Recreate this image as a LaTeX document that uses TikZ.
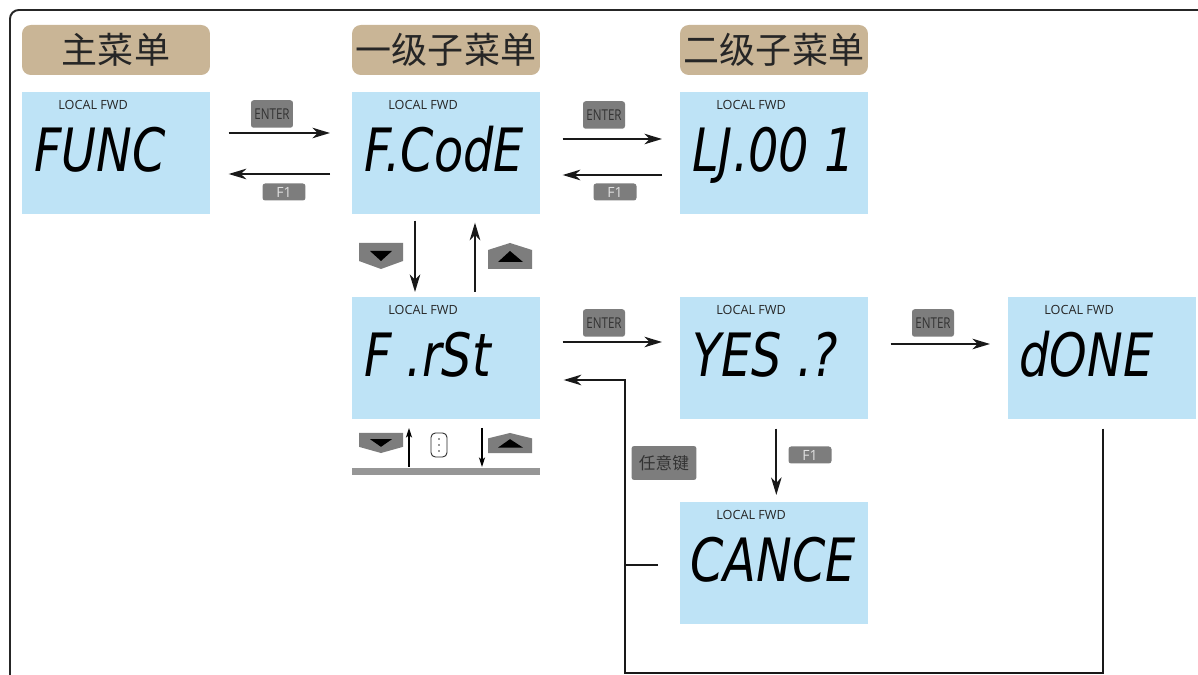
\documentclass[tikz,border=0pt]{standalone}
\usepackage{fontspec}
\setmainfont{Open Sans}
\newfontfamily\cjk{Noto Sans CJK SC}
\newfontfamily\segfont[FakeStretch=0.8]{DejaVu Sans}
\newfontfamily\condfont[FakeStretch=0.78]{Open Sans}
\usetikzlibrary{arrows.meta,calc}
\definecolor{lcdblue}{RGB}{190,227,246}
\definecolor{titletan}{RGB}{201,181,150}
\definecolor{keygray}{RGB}{125,125,125}
\definecolor{bargray}{RGB}{150,150,150}
\tikzset{
 lcd/.style={rectangle, fill=lcdblue, minimum width=3.76cm, minimum height=2.44cm, inner sep=0, anchor=north west},
 lcdsmall/.style={font=\fontsize{7.2}{8}\selectfont, text=black!85, anchor=west, inner sep=0},
 segtext/.style={font=\segfont\itshape\fontsize{34}{34}\selectfont, anchor=base west, inner sep=0},
 titlebox/.style={rectangle, rounded corners=5pt, fill=titletan, minimum width=3.76cm, minimum height=1cm, inner sep=0, font=\cjk\fontsize{20.5}{20.5}\selectfont, text=black!85},
 keybox/.style={rectangle, rounded corners=1.5pt, fill=keygray, inner sep=0},
 enterkey/.style={keybox, minimum width=0.84cm, minimum height=0.55cm, font=\condfont\fontsize{8.5}{9}\selectfont, text=black!80},
 fonekey/.style={keybox, minimum width=0.86cm, minimum height=0.34cm, font=\fontsize{8}{8}\selectfont, text=white!88!black},
 anykey/.style={keybox, minimum width=1.3cm, minimum height=0.68cm, font=\cjk\fontsize{9.5}{10}\selectfont, text=black!80},
 arr/.style={draw=black!90, line width=1pt, -{Stealth[length=10pt,width=6pt,inset=3pt]}},
 conn/.style={draw=black!90, line width=1pt},
 smallarr/.style={draw=black, line width=0.6pt, -{Stealth[length=5.5pt,width=3.5pt,inset=1.5pt]}},
 downkey/.pic={\fill[keygray] (-22,-13) -- (22,-13) -- (22,5) -- (0,13) -- (-22,5) -- cycle;
               \fill[black] (-11,-5) -- (11,-5) -- (0,5) -- cycle;},
 upkey/.pic={\fill[keygray] (-22,13) -- (22,13) -- (22,-6) -- (0,-13) -- (-22,-6) -- cycle;
             \fill[black] (-12,6) -- (13,6) -- (0,-5) -- cycle;},
}
\begin{document}
\begin{tikzpicture}[x=0.02cm,y=-0.02cm]
\useasboundingbox (0,0) rectangle (1198,675);
\fill[white] (0,0) rectangle (1198,675);
\begin{scope}
\clip (0,0) rectangle (1198,675);
\draw[line width=1.1pt, black!85, rounded corners=5pt] (10,10) rectangle (1240,720);
\end{scope}

% titles
\node[titlebox] (t1) at (116,50) {主菜单};
\node[titlebox] (t2) at (446,50) {一级子菜单};
\node[titlebox] (t3) at (774,50) {二级子菜单};

% displays
\node[lcd] (d1) at (22,92) {};
\node[lcd] (d2) at (352,92) {};
\node[lcd] (d3) at (680,92) {};
\node[lcd] (d4) at (352,297) {};
\node[lcd] (d5) at (680,297) {};
\node[lcd] (d6) at (1008,297) {};
\node[lcd] (d7) at (680,502) {};

\foreach \d in {d1,d2,d3,d4,d5,d6,d7}{
  \node[lcdsmall] (\d l) at ($(\d.north west)+(36,13)$) {LOCAL FWD};
}
\node[segtext] (d1t) at ($(d1.north west)+(12,80)$) {FUNC};
\node[segtext] (d2t) at ($(d2.north west)+(12,80)$) {F.CodE};
\node[segtext] (d3t) at ($(d3.north west)+(12,80)$) {LJ.00 1};
\node[segtext] (d4t) at ($(d4.north west)+(12,80)$) {F .rSt};
\node[segtext] (d5t) at ($(d5.north west)+(12,80)$) {YES .?};
\node[segtext] (d6t) at ($(d6.north west)+(11,80)$) {dONE};
\node[segtext] (d7t) at ($(d7.north west)+(10,80)$) {CANCE};

% keys
\node[enterkey] (k1) at (272,114) {ENTER};
\node[fonekey] (k2) at (284,192) {F1};
\node[enterkey] (k3) at (604,115) {ENTER};
\node[fonekey] (k4) at (615,192) {F1};
\node[enterkey] (k5) at (604,323) {ENTER};
\node[enterkey] (k6) at (933,323) {ENTER};
\node[fonekey] (k7) at (810,455) {F1};
\node[anykey] (k8) at (664,463) {任意键};

\pic at (381,256) {downkey};
\pic at (510,256) {upkey};
\pic[yscale=0.77] at (381,443) {downkey};
\pic[yscale=0.77] at (510,443) {upkey};

% dots key and bar
\node[draw=black!85, rounded corners=2.5pt, minimum width=0.32cm, minimum height=0.48cm, line width=0.5pt, inner sep=0] (dots) at (439,445) {};
\foreach \yy in {-6,0,6}{\fill[black!80] ($(dots.center)+(0,\yy)$) circle (0.8);}
\node[fill=bargray, minimum width=3.76cm, minimum height=0.14cm, inner sep=0, anchor=north west] (bar) at (352,468) {};
\coordinate (sa1) at (409,467);
\coordinate (sa2) at (409,428);
\coordinate (sb1) at (482,428);
\coordinate (sb2) at (482,467);
\draw[smallarr] (sa1) -- (sa2);
\draw[smallarr] (sb1) -- (sb2);

% connectors
\draw[arr] ($(d1.north east)+(18,41)$) -- ($(d2.north west)+(-22,41)$);
\draw[arr] ($(d2.north west)+(-22,82)$) -- ($(d1.north east)+(18,82)$);
\draw[arr] ($(d2.north east)+(22,47)$) -- ($(d3.north west)+(-18,47)$);
\draw[arr] ($(d3.north west)+(-18,83)$) -- ($(d2.north east)+(22,83)$);
\draw[arr] ($(d2.south west)+(63,6)$) -- ($(d4.north west)+(63,-5)$);
\draw[arr] ($(d4.north west)+(123,-5)$) -- ($(d2.south west)+(123,8)$);
\draw[arr] ($(d4.north east)+(22,45)$) -- ($(d5.north west)+(-18,45)$);
\draw[arr] ($(d5.north east)+(22,47)$) -- ($(d6.north west)+(-18,47)$);
\draw[arr] ($(d5.south)+(2,9)$) -- ($(d7.north)+(2,-7)$);
\draw[conn] ($(d7.west)+(-22,2)$) -- ++(-33,0);
\coordinate (loopB) at (625,673);
\draw[arr] ($(d6.south)+(1,9)$) |- (loopB) |- ($(d4.north east)+(23,83)$);
\end{tikzpicture}
\end{document}
